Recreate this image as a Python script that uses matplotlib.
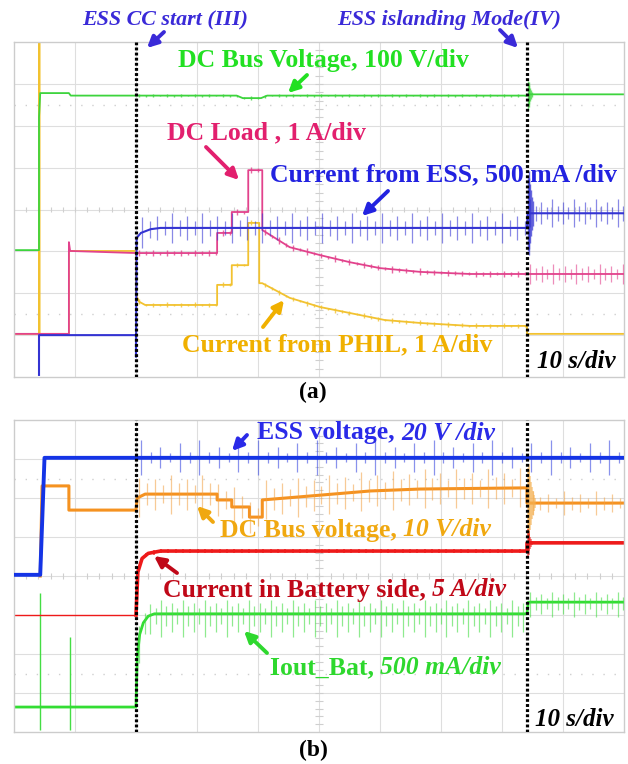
import numpy as np
import matplotlib.pyplot as plt

W, H = 628, 764
SERIF = ['Liberation Serif', 'DejaVu Serif']

# time in seconds (10 s/div), levels in screen divisions (0 = bottom edge, 8 = top edge)

# ---------- (a) ----------
bus_a_t = [-1, 4.1, 4.1, 4.3, 9.0, 9.3, 36.5, 37.5, 40.5, 41.5, 84.1, 84.4, 100]
bus_a_v = [3.03, 3.03, 6.2, 6.78, 6.78, 6.72, 6.72, 6.66, 6.66, 6.72, 6.72, 6.75, 6.75]

phil_t = [-1, 4.1, 4.1, 4.2, 4.2, 9.0, 9.0, 20.0, 20.0, 20.5, 21.5, 33.3, 33.3, 35.7, 35.7,
          38.4, 38.4, 40.2, 40.2, 40.7, 45.2, 50.2, 56.7, 60.8, 66.6, 74.8, 84.1, 84.1, 100]
phil_v = [1.03, 1.03, 8.0, 8.0, 1.03, 1.03, 3.01, 3.01, 1.96, 1.8, 1.72, 1.72, 2.2, 2.2, 2.67,
          2.67, 3.68, 3.68, 2.24, 2.24, 1.89, 1.67, 1.48, 1.36, 1.29, 1.22, 1.22, 1.03, 1.03]

load_t = [-1, 9.0, 9.0, 9.2, 20.0, 33.3, 33.3, 35.7, 35.7, 38.4, 38.4, 40.7, 40.7,
          45.2, 50.2, 55.1, 60.0, 66.6, 74.8, 84.1, 100]
load_v = [1.03, 1.03, 3.22, 3.01, 2.96, 2.96, 3.44, 3.44, 3.94, 3.94, 4.94, 4.94, 3.51,
          3.10, 2.91, 2.74, 2.60, 2.51, 2.46, 2.46, 2.46]

ess_i_t = [4.1, 4.1, 20.0, 20.0, 20.1, 20.8, 22.4, 24.0, 84.1, 84.2, 100]
ess_i_v = [0.05, 1.0, 1.0, 0.48, 3.32, 3.44, 3.53, 3.56, 3.56, 3.91, 3.91]

# ---------- (b) ----------
ess_v_t = [-1, 4.3, 5.0, 100]
ess_v_v = [4.03, 4.03, 7.03, 7.03]

bus_b_t = [4.3, 4.6, 9.0, 9.0, 20.0, 20.2, 21.5, 33.3, 33.3, 35.7, 35.7, 38.6, 38.6,
           40.7, 40.7, 46.9, 58.4, 66.6, 84.1, 84.1, 100]
bus_b_v = [4.0, 6.31, 6.31, 5.69, 5.69, 6.0, 6.1, 6.1, 5.95, 5.95, 5.77, 5.77, 5.51,
           5.51, 5.95, 6.03, 6.18, 6.23, 6.26, 5.87, 5.87]

batt_t = [-1, 20.0, 20.3, 21.0, 22.0, 24.0, 84.1, 84.1, 100]
batt_v = [3.0, 3.0, 4.1, 4.45, 4.58, 4.64, 4.64, 4.85, 4.85]

iout_t = [-1, 20.0, 20.2, 20.6, 21.2, 22.0, 23.0, 84.1, 84.3, 100]
iout_v = [0.64, 0.64, 1.9, 2.5, 2.8, 2.97, 3.03, 3.03, 3.33, 3.33]
iout_glitch_t = [4.3, 9.2]
iout_glitch_hi = [3.56, 2.44]

# decaying ringing right after islanding (div, one value per 0.15 s)
ring_big = [0.9, 1.0, 0.85, 0.7, 0.55, 0.4, 0.3, 0.2, 0.12]
ring_small = [0.35, 0.3, 0.22, 0.15, 0.1, 0.06]


def px(x, y):
    return (x, H - y)


def ripple(ax, t, v, start, stop, period, up, down, color, lw=0.8, alpha=0.6,
           pattern=(1.0, 0.55, 0.8, 0.45)):
    xs = np.arange(start, stop, period)
    base = np.interp(xs, t, v)
    k = np.resize(np.array(pattern), len(xs))
    ax.vlines(xs, base - down * k, base + up * k, color=color, lw=lw, alpha=alpha, zorder=3)


def ring(ax, t, v, t0, amps, color, lw=1.2, alpha=0.7):
    xs = t0 + 0.15 * np.arange(len(amps))
    base = np.interp(xs, t, v)
    a = np.array(amps)
    ax.vlines(xs, base - a, base + a, color=color, lw=lw, alpha=alpha, zorder=3)


def scope(ax):
    ax.set_xlim(0, 100)
    ax.set_ylim(0, 8)
    ax.set_xticks([])
    ax.set_yticks([])
    for t in range(10, 100, 10):
        ax.axvline(t, color='#dedede', lw=0.8, zorder=0)
    for d in range(1, 8):
        ax.axhline(d, color='#dedede', lw=0.8, zorder=0)
    for d in (1.5, 6.5):
        ax.axhline(d, color='#cfcfcf', lw=1.0, ls=(0, (1, 7)), zorder=0)
    ax.vlines(np.arange(2, 100, 2), 3.93, 4.07, color='#cfcfcf', lw=0.8, zorder=0)
    ax.hlines(np.arange(0.2, 8, 0.2), 49.4, 50.6, color='#cfcfcf', lw=0.8, zorder=0)
    for s in ax.spines.values():
        s.set_color('#cccccc')
        s.set_linewidth(1.0)
    for t in (20.0, 84.1):
        ax.axvline(t, color='black', lw=2.3, ls=(0, (0.9, 0.7)), zorder=5)


fig = plt.figure(figsize=(W / 100, H / 100), dpi=100)

ax_a = fig.add_axes([14 / W, (H - 377) / H, 610 / W, 335 / H])
scope(ax_a)
ax_a.plot(phil_t, phil_v, color='#f2c230', lw=1.3, zorder=2)
ax_a.plot(load_t, load_v, color='#e2428c', lw=1.3, zorder=2)
ax_a.plot(bus_a_t, bus_a_v, color='#3dd43d', lw=1.3, zorder=2)
ax_a.plot(ess_i_t, ess_i_v, color='#3434d2', lw=1.5, zorder=4)
ripple(ax_a, ess_i_t, ess_i_v, 21.0, 84.0, 1.23, 0.36, 0.36, '#3a3ad6', lw=0.9)
ripple(ax_a, ess_i_t, ess_i_v, 84.6, 100, 0.9, 0.33, 0.33, '#3a3ad6', lw=0.9)
ripple(ax_a, load_t, load_v, 20.5, 84.0, 1.15, 0.08, 0.08, '#e2428c', lw=1.0, alpha=0.8)
ripple(ax_a, load_t, load_v, 84.6, 100, 0.95, 0.24, 0.24, '#e2428c', lw=0.9)
ripple(ax_a, phil_t, phil_v, 20.5, 84.0, 1.15, 0.06, 0.06, '#f2c230', lw=1.0, alpha=0.8)
ripple(ax_a, bus_a_t, bus_a_v, 20.5, 84.0, 1.15, 0.04, 0.04, '#3dd43d', lw=1.0, alpha=0.8)
ring(ax_a, ess_i_t, ess_i_v, 84.2, ring_big[:7], '#3434d2', lw=1.0)
ring(ax_a, bus_a_t, bus_a_v, 84.2, ring_small, '#3dd43d', lw=1.0)

ax_b = fig.add_axes([14 / W, (H - 732) / H, 610 / W, 312 / H])
scope(ax_b)
ax_b.vlines(iout_glitch_t, 0.05, iout_glitch_hi, color='#44dd44', lw=1.0, zorder=2)
ax_b.plot(iout_t, iout_v, color='#33dd33', lw=2.0, zorder=2)
ax_b.plot(batt_t[:2], batt_v[:2], color='#ee1a1a', lw=1.0, zorder=2)
ax_b.plot(batt_t[1:], batt_v[1:], color='#ee1a1a', lw=2.6, zorder=2)
ax_b.plot(bus_b_t, bus_b_v, color='#f59220', lw=2.2, zorder=2)
ax_b.plot(ess_v_t, ess_v_v, color='#1434e6', lw=2.8, zorder=4)
ripple(ax_b, bus_b_t, bus_b_v, 20.5, 84.0, 1.3, 0.5, 0.5, '#f2a040', lw=0.9, alpha=0.55)
ripple(ax_b, bus_b_t, bus_b_v, 85.0, 100, 1.3, 0.3, 0.3, '#f2a040', lw=0.9, alpha=0.55)
ripple(ax_b, ess_v_t, ess_v_v, 20.8, 100, 1.6, 0.46, 0.44, '#3a4ae0', lw=0.9, alpha=0.6,
       pattern=(1.0, 0.3, 0.6, 0.25, 0.8, 0.3))
ripple(ax_b, batt_t, batt_v, 20.5, 84.0, 0.6, 0.06, 0.06, '#ee1a1a', lw=1.2, alpha=0.8)
ripple(ax_b, iout_t, iout_v, 20.5, 84.0, 0.9, 0.36, 0.59, '#44dd44', lw=0.9, alpha=0.6)
ripple(ax_b, iout_t, iout_v, 84.6, 100, 0.9, 0.26, 0.38, '#44dd44', lw=0.9, alpha=0.6)
ring(ax_b, bus_b_t, bus_b_v, 84.2, ring_big, '#f5b050', lw=1.2, alpha=0.6)
ring(ax_b, batt_t, batt_v, 84.2, ring_small, '#ee1a1a', lw=1.2, alpha=0.6)


def label(x, y, s, color, size=18.5, style='normal', ha='left'):
    return fig.text(x / W, 1 - y / H, s, color=color, fontsize=size, fontweight='bold',
                    style=style, family=SERIF, ha=ha, va='center')


def arrow(x0, y0, x1, y1, color):
    fig.add_artist(plt.Annotation('', xy=px(x1, y1), xytext=px(x0, y0),
                                  xycoords='figure pixels', textcoords='figure pixels',
                                  arrowprops=dict(arrowstyle='-|>', lw=2.8, color=color,
                                                  mutation_scale=16, shrinkA=0, shrinkB=0)))


def mixed(x, y, s1, s2, color, size=18.5):
    t1 = label(x, y, s1, color, size)
    fig.add_artist(plt.Annotation(s2, xy=(1, 0.5), xycoords=t1, ha='left', va='center',
                                  color=color, fontsize=size, fontweight='bold',
                                  style='italic', family=SERIF))


# (a) annotations
label(165, 20, 'ESS CC start (III)', '#3a2ad8', 15.8, 'italic', 'center')
arrow(164, 32, 147, 48, '#3a2ad8')
label(449, 20, 'ESS islanding Mode(IV)', '#3a2ad8', 15.8, 'italic', 'center')
arrow(500, 30, 518, 48, '#3a2ad8')
label(323, 60, 'DC Bus Voltage, 100 V/div', '#22e022', ha='center')
arrow(307, 75, 288, 93, '#22e022')
label(167, 133, 'DC Load , 1 A/div', '#e2206e')
arrow(206, 147, 239, 180, '#e2206e')
label(270, 175, 'Current from ESS, 500 mA /div', '#2222e0')
arrow(388, 191, 362, 216, '#2222e0')
label(182, 345, 'Current from PHIL, 1 A/div', '#f0b000')
arrow(263, 327, 284, 300, '#f0b000')
label(537, 362, '10 s/div', 'black', 18, 'italic')
label(313, 392, '(a)', 'black', 17, ha='center')

# (b) annotations
mixed(257, 433, 'ESS voltage, ', '20 V /div', '#2a2ae8')
arrow(247, 435, 232, 451, '#2a2ae8')
mixed(220, 530, 'DC Bus voltage, ', '10 V/div', '#f0a810')
arrow(213, 522, 197, 506, '#f0a810')
mixed(163, 590, 'Current in Battery side, ', '5 A/div', '#c00818')
arrow(177, 573, 154, 556, '#c00818')
mixed(270, 668, 'Iout_Bat, ', '500 mA/div', '#2ed82e')
arrow(267, 653, 244, 631, '#2ed82e')
label(535, 720, '10 s/div', 'black', 18, 'italic')
label(313, 750, '(b)', 'black', 17, ha='center')

fig.savefig('out.png', dpi=100)
